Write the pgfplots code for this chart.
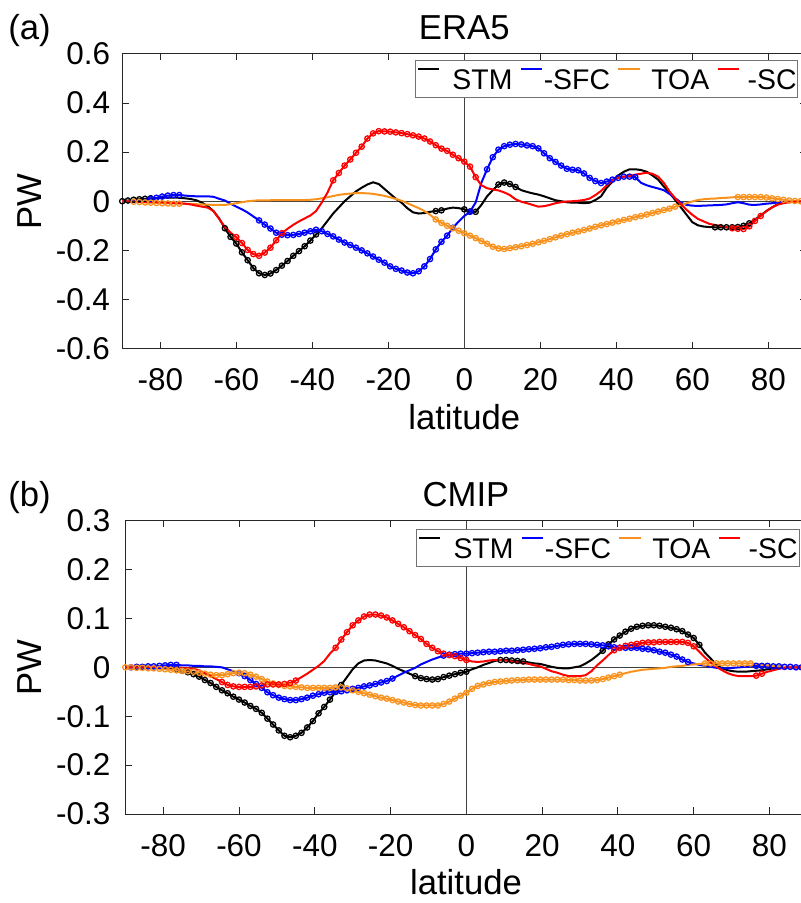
\documentclass[border=0pt]{standalone}
\usepackage{fontspec}
\setmainfont{Liberation Sans}
\usepackage{pgfplots}
\pgfplotsset{compat=1.18}
\usepackage{pgfplotstable}

\definecolor{myorange}{RGB}{248,146,30}

\pgfplotstableread{
lat stm sfc toa sc
-90 0 0 0 0
-88.5 0.003 0.000 -0.001 -0.001
-87 0.006 0.001 -0.002 -0.002
-85.5 0.008 0.003 -0.003 -0.003
-84 0.010 0.006 -0.005 -0.003
-82.5 0.012 0.010 -0.006 -0.004
-81 0.013 0.014 -0.007 -0.004
-79.5 0.014 0.019 -0.008 -0.005
-78 0.015 0.023 -0.009 -0.006
-76.5 0.015 0.025 -0.010 -0.007
-75 0.014 0.025 -0.010 -0.008
-73.5 0.012 0.023 -0.010 -0.010
-72 0.009 0.021 -0.011 -0.013
-70.5 0.004 0.020 -0.012 -0.018
-69 -0.006 0.020 -0.013 -0.022
-67.5 -0.020 0.020 -0.014 -0.026
-66 -0.040 0.018 -0.015 -0.040
-64.5 -0.070 0.010 -0.015 -0.072
-63 -0.110 0.003 -0.015 -0.105
-61.5 -0.145 -0.010 -0.012 -0.128
-60 -0.172 -0.022 -0.008 -0.146
-58.5 -0.208 -0.033 -0.004 -0.170
-57 -0.240 -0.046 0.000 -0.198
-55.5 -0.272 -0.062 0.002 -0.215
-54 -0.293 -0.078 0.004 -0.222
-52.5 -0.300 -0.095 0.004 -0.209
-51 -0.294 -0.111 0.004 -0.189
-49.5 -0.280 -0.128 0.005 -0.159
-48 -0.262 -0.136 0.005 -0.130
-46.5 -0.243 -0.138 0.005 -0.112
-45 -0.222 -0.137 0.005 -0.096
-43.5 -0.203 -0.133 0.005 -0.082
-42 -0.183 -0.128 0.005 -0.070
-40.5 -0.160 -0.122 0.006 -0.058
-39 -0.135 -0.116 0.008 -0.040
-37.5 -0.110 -0.122 0.012 -0.005
-36 -0.080 -0.133 0.016 0.035
-34.5 -0.050 -0.143 0.021 0.085
-33 -0.025 -0.156 0.026 0.115
-31.5 0.000 -0.168 0.029 0.145
-30 0.020 -0.178 0.031 0.170
-28.5 0.040 -0.189 0.033 0.197
-27 0.055 -0.200 0.033 0.222
-25.5 0.068 -0.212 0.032 0.255
-24 0.077 -0.225 0.030 0.276
-22.5 0.070 -0.238 0.026 0.285
-21 0.050 -0.250 0.022 0.284
-19.5 0.030 -0.265 0.016 0.283
-18 0.010 -0.275 0.009 0.280
-16.5 -0.006 -0.282 0.002 0.277
-15 -0.028 -0.290 -0.008 0.273
-13.5 -0.045 -0.293 -0.018 0.268
-12 -0.050 -0.285 -0.028 0.263
-10.5 -0.048 -0.265 -0.040 0.255
-9 -0.043 -0.235 -0.055 0.243
-7.5 -0.040 -0.196 -0.074 0.228
-6 -0.037 -0.165 -0.088 0.214
-4.5 -0.030 -0.140 -0.100 0.205
-3 -0.026 -0.108 -0.110 0.189
-1.5 -0.028 -0.083 -0.120 0.175
0 -0.033 -0.060 -0.130 0.161
1.5 -0.042 -0.043 -0.140 0.141
3 -0.043 -0.005 -0.150 0.098
4.5 -0.015 0.075 -0.162 0.065
6 0.020 0.130 -0.173 0.053
7.5 0.045 0.179 -0.185 0.048
9 0.068 0.210 -0.192 0.044
10.5 0.076 0.224 -0.194 0.036
12 0.070 0.230 -0.191 0.025
13.5 0.058 0.233 -0.187 0.008
15 0.045 0.231 -0.183 -0.002
16.5 0.038 0.227 -0.178 -0.008
18 0.032 0.224 -0.173 -0.015
19.5 0.027 0.215 -0.167 -0.022
21 0.020 0.195 -0.161 -0.020
22.5 0.012 0.175 -0.154 -0.015
24 0.004 0.160 -0.147 -0.008
25.5 0.000 0.145 -0.140 -0.004
27 -0.004 0.132 -0.134 -0.001
28.5 -0.006 0.128 -0.128 0.000
30 -0.006 0.126 -0.123 0.002
31.5 -0.008 0.113 -0.117 0.005
33 -0.006 0.095 -0.111 0.011
34.5 0.005 0.082 -0.104 0.025
36 0.020 0.074 -0.098 0.042
37.5 0.055 0.080 -0.093 0.065
39 0.080 0.088 -0.087 0.084
40.5 0.105 0.095 -0.082 0.095
42 0.120 0.100 -0.076 0.100
43.5 0.130 0.100 -0.071 0.103
45 0.130 0.098 -0.065 0.108
46.5 0.127 0.075 -0.060 0.112
48 0.120 0.065 -0.054 0.116
49.5 0.105 0.058 -0.048 0.112
51 0.088 0.052 -0.042 0.100
52.5 0.060 0.045 -0.036 0.075
54 0.035 0.030 -0.030 0.040
55.5 0.005 0.012 -0.022 0.012
57 -0.025 -0.005 -0.016 -0.012
58.5 -0.055 -0.015 -0.008 -0.035
60 -0.085 -0.018 -0.001 -0.055
61.5 -0.098 -0.019 0.005 -0.072
63 -0.103 -0.018 0.008 -0.082
64.5 -0.105 -0.017 0.010 -0.092
66 -0.106 -0.016 0.011 -0.097
67.5 -0.106 -0.015 0.013 -0.100
69 -0.106 -0.013 0.014 -0.106
70.5 -0.106 -0.008 0.016 -0.110
72 -0.105 -0.004 0.017 -0.112
73.5 -0.100 -0.008 0.017 -0.113
75 -0.090 -0.014 0.017 -0.102
76.5 -0.075 -0.015 0.017 -0.080
78 -0.058 -0.013 0.017 -0.060
79.5 -0.040 -0.010 0.015 -0.040
81 -0.025 -0.008 0.012 -0.025
82.5 -0.012 -0.005 0.009 -0.014
84 -0.004 -0.002 0.006 -0.008
85.5 0.000 0.000 0.003 -0.004
87 0.000 0.000 0.001 -0.002
88.5 0.000 0.000 0.000 -0.001
90 0 0 0 0
}\tabA

\pgfplotstableread{
lat stm sfc toa sc
-90 0 0 0 0
-88.5 0 0 0 0
-87 0 0.001 -0.001 0
-85.5 0 0.001 -0.001 0
-84 0 0.002 -0.002 0
-82.5 0 0.002 -0.002 0
-81 0 0.003 -0.003 0
-79.5 -0.001 0.004 -0.004 0
-78 -0.003 0.005 -0.005 0
-76.5 -0.005 0.005 -0.006 0
-75 -0.007 0.004 -0.007 -0.001
-73.5 -0.010 0.004 -0.008 -0.002
-72 -0.014 0.003 -0.009 -0.003
-70.5 -0.019 0.003 -0.011 -0.006
-69 -0.026 0.002 -0.013 -0.012
-67.5 -0.032 0.002 -0.015 -0.018
-66 -0.040 0.001 -0.016 -0.024
-64.5 -0.047 0.000 -0.016 -0.030
-63 -0.053 -0.004 -0.014 -0.036
-61.5 -0.060 -0.008 -0.012 -0.039
-60 -0.066 -0.012 -0.011 -0.040
-58.5 -0.072 -0.018 -0.012 -0.040
-57 -0.079 -0.026 -0.015 -0.040
-55.5 -0.085 -0.034 -0.019 -0.039
-54 -0.093 -0.042 -0.024 -0.037
-52.5 -0.105 -0.051 -0.029 -0.035
-51 -0.117 -0.057 -0.033 -0.035
-49.5 -0.129 -0.062 -0.036 -0.035
-48 -0.140 -0.065 -0.038 -0.034
-46.5 -0.143 -0.067 -0.039 -0.032
-45 -0.140 -0.067 -0.040 -0.027
-43.5 -0.134 -0.065 -0.041 -0.020
-42 -0.123 -0.062 -0.042 -0.013
-40.5 -0.110 -0.058 -0.042 -0.005
-39 -0.094 -0.055 -0.042 0.003
-37.5 -0.081 -0.052 -0.042 0.013
-36 -0.066 -0.051 -0.042 0.028
-34.5 -0.050 -0.050 -0.041 0.040
-33 -0.036 -0.049 -0.041 0.057
-31.5 -0.020 -0.047 -0.043 0.072
-30 -0.004 -0.044 -0.047 0.086
-28.5 0.008 -0.042 -0.050 0.096
-27 0.014 -0.039 -0.053 0.104
-25.5 0.015 -0.037 -0.056 0.108
-24 0.014 -0.034 -0.059 0.108
-22.5 0.011 -0.031 -0.062 0.106
-21 0.008 -0.028 -0.064 0.102
-19.5 0.003 -0.023 -0.067 0.096
-18 -0.003 -0.017 -0.070 0.089
-16.5 -0.008 -0.011 -0.072 0.082
-15 -0.013 -0.006 -0.075 0.074
-13.5 -0.018 -0.001 -0.077 0.066
-12 -0.022 0.006 -0.078 0.058
-10.5 -0.024 0.011 -0.078 0.048
-9 -0.025 0.016 -0.078 0.040
-7.5 -0.024 0.020 -0.078 0.033
-6 -0.020 0.024 -0.075 0.028
-4.5 -0.017 0.026 -0.070 0.025
-3 -0.014 0.027 -0.064 0.023
-1.5 -0.011 0.028 -0.058 0.019
0 -0.009 0.028 -0.052 0.015
1.5 -0.004 0.029 -0.044 0.012
3 0.000 0.030 -0.038 0.011
4.5 0.005 0.031 -0.035 0.012
6 0.009 0.032 -0.032 0.014
7.5 0.013 0.032 -0.030 0.015
9 0.015 0.033 -0.029 0.015
10.5 0.015 0.034 -0.028 0.014
12 0.014 0.034 -0.027 0.012
13.5 0.013 0.035 -0.026 0.010
15 0.012 0.036 -0.026 0.009
16.5 0.010 0.037 -0.025 0.007
18 0.008 0.038 -0.025 0.004
19.5 0.007 0.039 -0.025 0.002
21 0.004 0.041 -0.025 -0.003
22.5 0.001 0.042 -0.025 -0.008
24 -0.001 0.044 -0.025 -0.011
25.5 -0.002 0.046 -0.025 -0.015
27 -0.002 0.047 -0.026 -0.018
28.5 0.000 0.048 -0.026 -0.018
30 0.002 0.048 -0.027 -0.018
31.5 0.008 0.048 -0.027 -0.016
33 0.015 0.047 -0.027 -0.008
34.5 0.024 0.046 -0.026 0.004
36 0.034 0.045 -0.024 0.014
37.5 0.047 0.043 -0.021 0.025
39 0.057 0.041 -0.018 0.035
40.5 0.065 0.040 -0.015 0.040
42 0.073 0.040 -0.012 0.044
43.5 0.079 0.040 -0.009 0.046
45 0.083 0.040 -0.007 0.048
46.5 0.085 0.038 -0.005 0.050
48 0.086 0.037 -0.004 0.051
49.5 0.086 0.035 -0.003 0.051
51 0.085 0.032 -0.002 0.052
52.5 0.083 0.030 -0.001 0.052
54 0.081 0.026 0.001 0.052
55.5 0.078 0.022 0.002 0.052
57 0.074 0.016 0.003 0.052
58.5 0.067 0.011 0.005 0.050
60 0.060 0.008 0.006 0.043
61.5 0.046 0.005 0.007 0.032
63 0.030 0.003 0.008 0.020
64.5 0.018 0.001 0.008 0.010
66 0.005 -0.001 0.008 0.001
67.5 -0.002 -0.002 0.008 -0.006
69 -0.006 -0.002 0.008 -0.012
70.5 -0.008 -0.001 0.008 -0.016
72 -0.009 0.000 0.008 -0.018
73.5 -0.009 0.001 0.008 -0.018
75 -0.008 0.002 0.008 -0.018
76.5 -0.007 0.003 0.007 -0.017
78 -0.006 0.003 0.005 -0.013
79.5 -0.004 0.003 0.004 -0.009
81 -0.002 0.002 0.003 -0.006
82.5 -0.001 0.002 0.002 -0.003
84 0 0.001 0.001 -0.001
85.5 0 0.001 0 0
87 0 0 0 0
88.5 0 0 0 0
90 0 0 0 0
}\tabB

\newcommand{\mk}[5]{\addplot[forget plot, only marks, mark=o, mark size=2pt,
  mark options={line width=0.95pt, solid}, color=#1,
  restrict x to domain=#4:#5] table[x=lat,y=#3]{#2};}

\pgfplotsset{myax/.style={
  scale only axis, anchor=north west,
  xmin=-90, xmax=90, enlargelimits=false,
  tick align=inside, major tick length=5pt,
  axis line style={black!85, line width=0.6pt},
  every tick/.style={black!85, line width=0.6pt},
  xtick={-80,-60,-40,-20,0,20,40,60,80},
  xticklabels={-80,-60,-40,-20,0,20,40,60,80},
  tick label style={font=\fontsize{23.6}{28}\selectfont},
  xticklabel style={anchor=base, yshift=-31.5pt},
  yticklabel style={anchor=east, inner xsep=0pt, xshift=-9pt},
  every axis plot/.append style={line width=1.5pt},
  legend columns=4,
  legend image code/.code={\draw[##1, line width=1.5pt] (0pt,7.5pt) -- (16pt,7.5pt);},
  legend style={at={(1,1)}, anchor=north east, draw=black!55, line width=0.6pt,
    inner xsep=1pt, inner ysep=0pt,
    font=\fontsize{21.3}{25}\selectfont,
    nodes={inner xsep=0pt, inner ysep=3pt, text height=19pt, text depth=2.75pt},
    /tikz/every even column/.append style={column sep=5.5pt}},
}}

\begin{document}
\begin{tikzpicture}
\useasboundingbox (0pt,0pt) rectangle (600pt,-677.25pt);

% ---------- panel (a) ----------
\begin{axis}[myax, at={(91.7pt,-40.3pt)}, width=513pt, height=221.25pt,
  ymin=-0.6, ymax=0.6,
  ytick={-0.6,-0.4,-0.2,0,0.2,0.4,0.6},
  yticklabels={-0.6,-0.4,-0.2,0,0.2,0.4,0.6},
  legend style={xshift=-6pt, yshift=-4.7pt}]
\addplot[forget plot, black!75, line width=0.6pt] coordinates {(-90,0) (90,0)};
\addplot[forget plot, black!75, line width=0.6pt] coordinates {(0,-0.6) (0,0.6)};

\addplot[black] table[x=lat,y=stm]{\tabA};
\addlegendentry{\hspace{9.3pt}STM}
\mk{black}{\tabA}{stm}{-90.1}{-82.4}
\mk{black}{\tabA}{stm}{-63.1}{-38.9}
\mk{black}{\tabA}{stm}{-7.6}{-5.9}
\mk{black}{\tabA}{stm}{-0.1}{3.1}
\mk{black}{\tabA}{stm}{8.9}{13.6}
\mk{black}{\tabA}{stm}{65.9}{75.1}

\addplot[blue] table[x=lat,y=sfc]{\tabA};
\addlegendentry{\hspace{0.5pt}-SFC}
\mk{blue}{\tabA}{sfc}{-82.6}{-74.9}
\mk{blue}{\tabA}{sfc}{-54.1}{-2.9}
\mk{blue}{\tabA}{sfc}{1.4}{1.6}
\mk{blue}{\tabA}{sfc}{5.9}{45.1}

\addplot[myorange] table[x=lat,y=toa]{\tabA};
\addlegendentry{\hspace{8pt}TOA}
\mk{myorange}{\tabA}{toa}{-87.1}{-74.9}
\mk{myorange}{\tabA}{toa}{-7.6}{55.6}
\mk{myorange}{\tabA}{toa}{71.9}{90.1}

\addplot[red] table[x=lat,y=sc]{\tabA};
\addlegendentry{\hspace{5.8pt}-SC}
\mk{red}{\tabA}{sc}{-60.1}{-47.9}
\mk{red}{\tabA}{sc}{-34.6}{3.1}
\mk{red}{\tabA}{sc}{70.4}{78.1}
\end{axis}

% ---------- panel (b) ----------
\begin{axis}[myax, at={(94pt,-390.5pt)}, width=511.5pt, height=220pt,
  ymin=-0.3, ymax=0.3,
  ytick={-0.3,-0.2,-0.1,0,0.1,0.2,0.3},
  yticklabels={-0.3,-0.2,-0.1,0,0.1,0.2,0.3},
  yticklabel style={xshift=-2pt},
  legend style={xshift=-6pt, yshift=-6.2pt}]
\addplot[forget plot, black!75, line width=0.6pt] coordinates {(-90,0) (90,0)};
\addplot[forget plot, black!75, line width=0.6pt] coordinates {(0,-0.3) (0,0.3)};

\addplot[black] table[x=lat,y=stm]{\tabB};
\addlegendentry{\hspace{9.3pt}STM}
\mk{black}{\tabB}{stm}{-76.6}{-32.9}
\mk{black}{\tabB}{stm}{-13.6}{0.1}
\mk{black}{\tabB}{stm}{8.9}{15.1}
\mk{black}{\tabB}{stm}{35.9}{61.6}

\addplot[blue] table[x=lat,y=sfc]{\tabB};
\addlegendentry{\hspace{0.5pt}-SFC}
\mk{blue}{\tabB}{sfc}{-88.6}{-76.4}
\mk{blue}{\tabB}{sfc}{-60.1}{-19.4}
\mk{blue}{\tabB}{sfc}{-6.1}{58.6}
\mk{blue}{\tabB}{sfc}{76.4}{90.1}

\addplot[myorange] table[x=lat,y=toa]{\tabB};
\addlegendentry{\hspace{8pt}TOA}
\mk{myorange}{\tabB}{toa}{-90.1}{40.6}
\mk{myorange}{\tabB}{toa}{62.9}{75.1}

\addplot[red] table[x=lat,y=sc]{\tabB};
\addlegendentry{\hspace{5.8pt}-SC}
\mk{red}{\tabB}{sc}{-64.6}{-44.9}
\mk{red}{\tabB}{sc}{-34.6}{0.1}
\mk{red}{\tabB}{sc}{38.9}{60.1}
\mk{red}{\tabB}{sc}{76.4}{78.1}
\end{axis}

% ---------- titles and labels ----------
\begin{scope}[every node/.style={font=\fontsize{26}{31}\selectfont, inner sep=0pt}]
\node[anchor=base] at (348.2pt,-29.25pt) {ERA5};
\node[anchor=base west] at (6pt,-29.25pt) {(a)};
\node[rotate=90] at (22.5pt,-151pt) {PW};
\node[anchor=base] at (348.2pt,-321.75pt) {latitude};

\node[anchor=base] at (349.5pt,-379.5pt) {CMIP};
\node[anchor=base west] at (6pt,-379.5pt) {(b)};
\node[rotate=90] at (22.5pt,-500.5pt) {PW};
\node[anchor=base] at (349.5pt,-670.5pt) {latitude};
\end{scope}
\end{tikzpicture}
\end{document}
